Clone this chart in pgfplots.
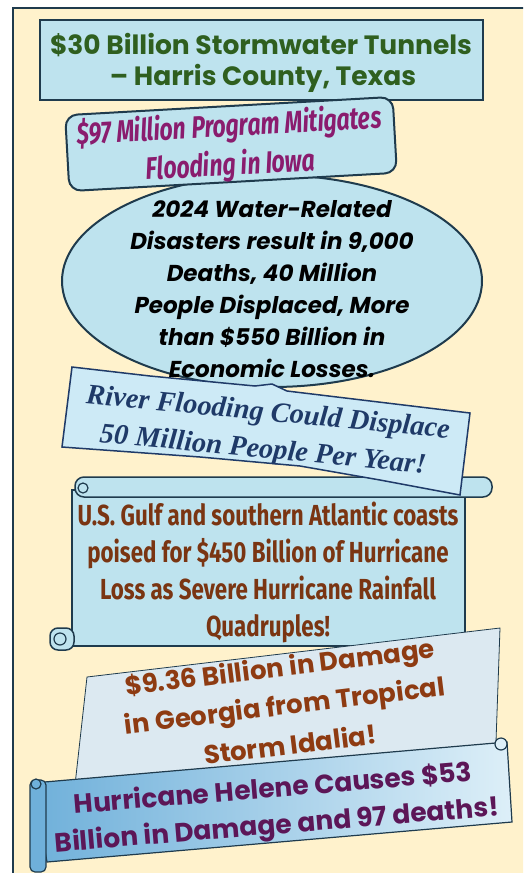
\documentclass[border=0pt]{standalone}
\usepackage{pgfplots}
\pgfplotsset{compat=1.18}
\usepackage{fontspec}
\setmainfont{Poppins}
\newfontfamily\condf[FakeStretch=0.74]{Fira Sans}
\newfontfamily\condg[FakeStretch=0.77]{Fira Sans}
\newfontfamily\scriptf{Liberation Serif}
\definecolor{cream}{HTML}{FFF2CC}
\definecolor{frame}{HTML}{1F3B4D}
\definecolor{cyanfill}{HTML}{BEE3EE}
\definecolor{riverfill}{HTML}{CDEAF6}
\definecolor{geofill}{HTML}{DCE9F1}
\definecolor{helL}{HTML}{6FB0DA}
\definecolor{helR}{HTML}{DDEFF8}
\definecolor{tgreen}{HTML}{2F5F1F}
\definecolor{tmag}{HTML}{8A1C6E}
\definecolor{tnavy}{HTML}{1F3A68}
\definecolor{tbrownA}{HTML}{7A3512}
\definecolor{tbrownB}{HTML}{8E3B12}
\definecolor{tpurp}{HTML}{5C1657}
\begin{document}
\begin{tikzpicture}
\useasboundingbox (0,0) rectangle (523pt,873pt);
\clip (0,0) rectangle (523pt,873pt);
\begin{axis}[
  width=523pt, height=873pt, scale only axis,
  xmin=0, xmax=523, ymin=0, ymax=873, y dir=reverse,
  hide axis, clip=false]
% frame
\draw[line width=2.5pt, draw=frame, fill=cream] (13,8) rectangle (560,900);
% box 1
\draw[line width=2pt, draw=frame, fill=cyanfill] (40,20) rectangle (483,100);
\node[text=tgreen, font=\bfseries\fontsize{26.5}{33}\selectfont] at (261,45) {\$30 Billion Stormwater Tunnels};
\node[text=tgreen, font=\bfseries\fontsize{26.5}{33}\selectfont] at (263,78) {– Harris County, Texas};
% ellipse
\draw[line width=2pt, draw=frame, fill=cyanfill] (272,281) ellipse [x radius=210, y radius=106];
% box 2
\node[draw=frame, line width=2pt, fill=cyanfill, rounded corners=12pt, rotate=3.2,
  minimum width=328pt, minimum height=76pt, inner sep=0pt] at (231,144) {};
\node[rotate=3.2, text=tmag, font=\condf\bfseries\itshape\fontsize{31}{39}\selectfont]
  at (229,127) {\$97 Million Program Mitigates};
\node[rotate=3.2, text=tmag, font=\condf\bfseries\itshape\fontsize{31}{39}\selectfont]
  at (231,166) {Flooding in Iowa};
% scroll 1
\draw[line width=1.5pt, draw=frame, fill=cyanfill] (72,490) rectangle (465,646);
\draw[line width=1.5pt, draw=frame, fill=cyanfill, rounded corners=9pt] (75,477) rectangle (492,497);
\draw[line width=1.2pt, draw=frame, fill=cyanfill] (83,488) circle [radius=5];
\draw[line width=1.5pt, draw=frame, fill=cyanfill, rounded corners=8pt] (50,628) rectangle (74,650);
\draw[line width=1.2pt, draw=frame, fill=cyanfill] (60,639) circle [radius=6];
\node[align=center, text=tbrownA, font=\condg\bfseries\fontsize{29}{37}\selectfont] at (268,572)
  {U.S. Gulf and southern Atlantic coasts\\poised for \$450 Billion of Hurricane\\Loss as Severe Hurricane Rainfall\\Quadruples!};
% river banner
\draw[line width=1.5pt, draw=tnavy, fill=riverfill] (72,367) -- (150,376) -- (255,386) -- (272,384) -- (287,391) -- (470,413) -- (460,495) -- (380,480) -- (300,466) -- (200,457) -- (62,447) -- cycle;
\node[rotate=-5.5, text=tnavy, font=\scriptf\bfseries\itshape\fontsize{28.5}{37}\selectfont]
  at (268,414) {River Flooding Could Displace};
\node[rotate=-5.5, text=tnavy, font=\scriptf\bfseries\itshape\fontsize{28.5}{37}\selectfont]
  at (263,451) {50 Million People Per Year!};
% ellipse text
\node[align=center, text=black, font=\bfseries\itshape\fontsize{23}{32}\selectfont] at (272,289)
  {2024 Water-Related\\Disasters result in 9,000\\Deaths, 40 Million\\People Displaced, More\\than \$550 Billion in\\Economic Losses.};
% Georgia banner
\draw[line width=0.8pt, draw=frame, fill=geofill] (87,677) -- (500,628) -- (495,770) -- (75,785) -- cycle;
\node[rotate=7, text=tbrownB, font=\bfseries\fontsize{26}{36}\selectfont]
  at (280,670) {\$9.36 Billion in Damage};
\node[rotate=7, text=tbrownB, font=\bfseries\fontsize{26}{36}\selectfont]
  at (285,708) {in Georgia from Tropical};
\node[rotate=7, text=tbrownB, font=\bfseries\fontsize{26}{36}\selectfont]
  at (290,744) {Storm Idalia!};
% Helene banner
\shade[left color=helL, right color=helR] (33,783) -- (507,742) -- (512,822) -- (47,862) -- cycle;
\draw[line width=1.2pt, draw=frame] (33,783) -- (507,742) -- (512,822) -- (47,862) -- cycle;
\draw[line width=1.2pt, draw=frame, fill=helL, rounded corners=5pt] (30,780) rectangle (46,872);
\draw[line width=1.2pt, draw=frame, fill=helL] (36,784) circle [radius=5];
\draw[line width=1.2pt, draw=frame, fill=helR] (501,744) circle [radius=6];
\node[rotate=4.7, text=tpurp, font=\bfseries\fontsize{26.5}{38}\selectfont]
  at (273,788) {Hurricane Helene Causes \$53};
\node[rotate=4.7, text=tpurp, font=\bfseries\fontsize{26.5}{38}\selectfont]
  at (277,827) {Billion in Damage and 97 deaths!};
\end{axis}
\end{tikzpicture}
\end{document}
